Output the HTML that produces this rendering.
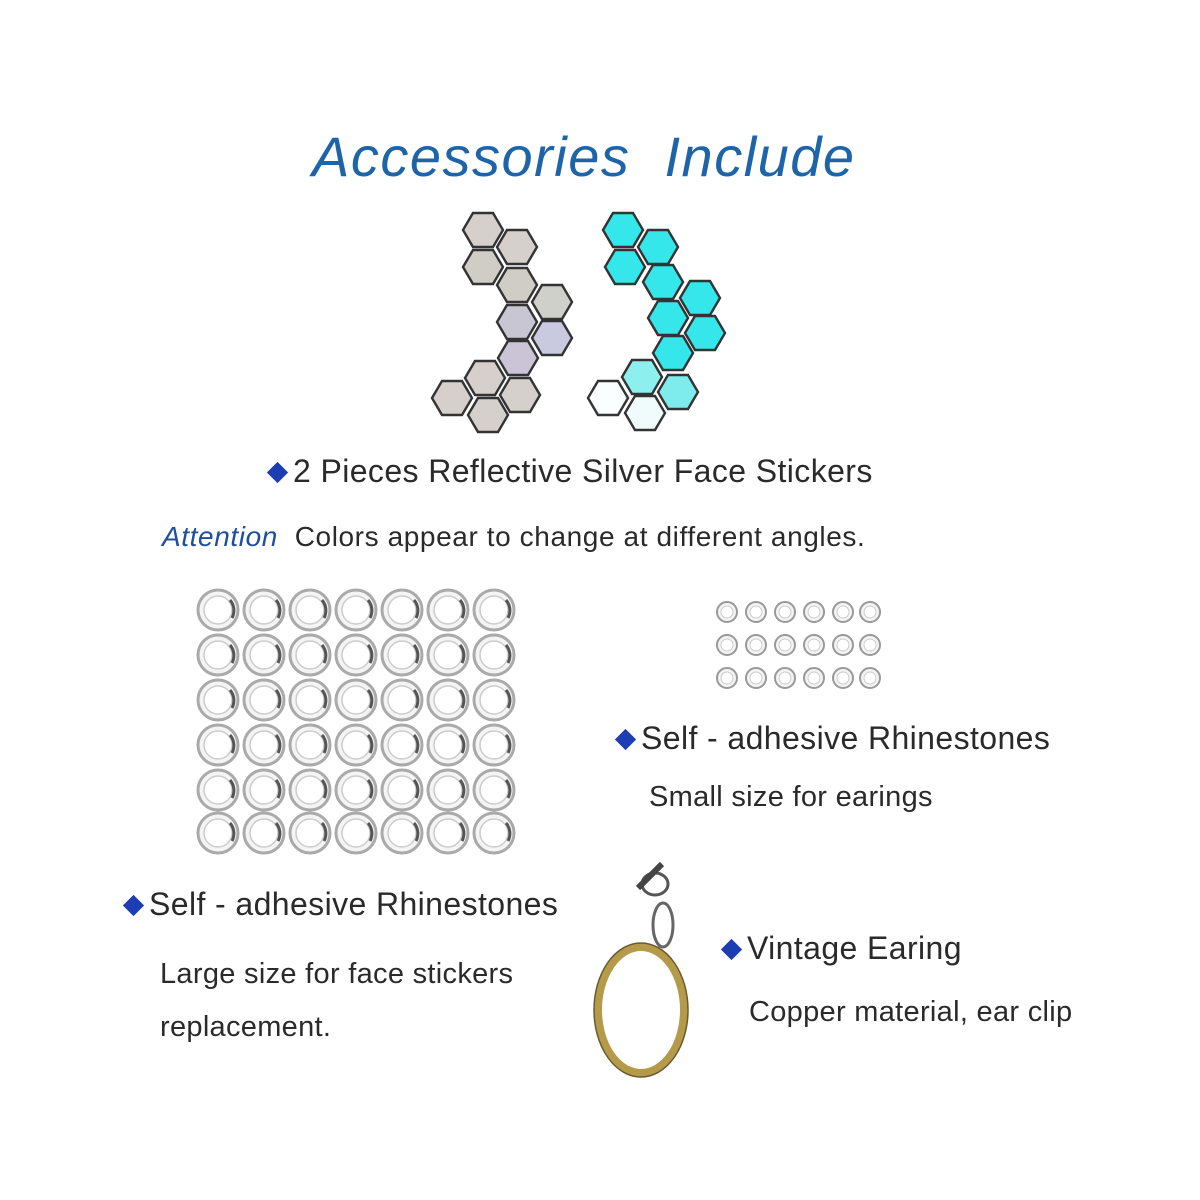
<!DOCTYPE html>
<html><head><meta charset="utf-8"><style>
body{margin:0;width:1200px;height:1200px;background:#fff;position:relative;overflow:hidden;font-family:"Liberation Sans",sans-serif;color:#2a2a2a}
.t{position:absolute;white-space:nowrap}
.d{display:inline-block;width:15px;height:15px;background:#1d3db4;transform:rotate(45deg);margin:0 8px 3px 4px;vertical-align:middle}
</style></head><body>
<div class="t" style="left:312px;top:124px;font-size:56px;letter-spacing:1.5px;font-style:italic;color:#1e64a8;">Accessories&nbsp; Include</div>
<svg width="1200" height="1200" style="position:absolute;left:0;top:0">
<defs>
<symbol id="hx" viewBox="-21 -18 42 36" overflow="visible"><polygon points="-20,0 -10,-17 10,-17 20,0 10,17 -10,17" stroke="#333" stroke-width="2.4"/></symbol>
<g id="rs"><circle r="20" fill="#f4f4f4" stroke="#aaa" stroke-width="3"/><circle r="14" fill="#fff" stroke="#ccc" stroke-width="1.5"/><path d="M12,-10 A16 16 0 0 1 14,8" stroke="#555" stroke-width="3" fill="none"/></g>
<g id="rss"><circle r="10" fill="#f4f4f4" stroke="#999" stroke-width="2"/><circle r="6" fill="#fff" stroke="#ccc"/></g>
</defs>
<g fill="#d6d0cc">
<use href="#hx" x="462" y="212" width="42" height="36"/><use href="#hx" x="496" y="229" width="42" height="36"/><use href="#hx" x="462" y="249" width="42" height="36" fill="#cfcdc6"/><use href="#hx" x="496" y="267" width="42" height="36" fill="#cfcdc6"/><use href="#hx" x="531" y="284" width="42" height="36" fill="#d0d0ca"/><use href="#hx" x="496" y="304" width="42" height="36" fill="#c9c6d3"/><use href="#hx" x="531" y="320" width="42" height="36" fill="#c9c9df"/><use href="#hx" x="497" y="340" width="42" height="36" fill="#cbc4d6"/><use href="#hx" x="464" y="360" width="42" height="36"/><use href="#hx" x="431" y="380" width="42" height="36"/><use href="#hx" x="499" y="377" width="42" height="36"/><use href="#hx" x="467" y="397" width="42" height="36"/>
</g>
<g fill="#35e6ea">
<use href="#hx" x="602" y="212" width="42" height="36"/><use href="#hx" x="637" y="229" width="42" height="36"/><use href="#hx" x="604" y="249" width="42" height="36"/><use href="#hx" x="642" y="264" width="42" height="36"/><use href="#hx" x="679" y="280" width="42" height="36"/><use href="#hx" x="647" y="300" width="42" height="36"/><use href="#hx" x="684" y="315" width="42" height="36"/><use href="#hx" x="652" y="335" width="42" height="36"/><use href="#hx" x="621" y="359" width="42" height="36" fill="#8ef0ee"/><use href="#hx" x="587" y="380" width="42" height="36" fill="#fafefe"/><use href="#hx" x="657" y="374" width="42" height="36" fill="#7eecec"/><use href="#hx" x="624" y="395" width="42" height="36" fill="#f0fbfb"/>
</g>
<g>
<use href="#rs" x="218" y="610"/><use href="#rs" x="264" y="610"/><use href="#rs" x="310" y="610"/><use href="#rs" x="356" y="610"/><use href="#rs" x="402" y="610"/><use href="#rs" x="448" y="610"/><use href="#rs" x="494" y="610"/>
<use href="#rs" x="218" y="655"/><use href="#rs" x="264" y="655"/><use href="#rs" x="310" y="655"/><use href="#rs" x="356" y="655"/><use href="#rs" x="402" y="655"/><use href="#rs" x="448" y="655"/><use href="#rs" x="494" y="655"/>
<use href="#rs" x="218" y="700"/><use href="#rs" x="264" y="700"/><use href="#rs" x="310" y="700"/><use href="#rs" x="356" y="700"/><use href="#rs" x="402" y="700"/><use href="#rs" x="448" y="700"/><use href="#rs" x="494" y="700"/>
<use href="#rs" x="218" y="745"/><use href="#rs" x="264" y="745"/><use href="#rs" x="310" y="745"/><use href="#rs" x="356" y="745"/><use href="#rs" x="402" y="745"/><use href="#rs" x="448" y="745"/><use href="#rs" x="494" y="745"/>
<use href="#rs" x="218" y="790"/><use href="#rs" x="264" y="790"/><use href="#rs" x="310" y="790"/><use href="#rs" x="356" y="790"/><use href="#rs" x="402" y="790"/><use href="#rs" x="448" y="790"/><use href="#rs" x="494" y="790"/>
<use href="#rs" x="218" y="833"/><use href="#rs" x="264" y="833"/><use href="#rs" x="310" y="833"/><use href="#rs" x="356" y="833"/><use href="#rs" x="402" y="833"/><use href="#rs" x="448" y="833"/><use href="#rs" x="494" y="833"/>
</g>
<g>
<use href="#rss" x="727" y="612"/><use href="#rss" x="756" y="612"/><use href="#rss" x="785" y="612"/><use href="#rss" x="814" y="612"/><use href="#rss" x="843" y="612"/><use href="#rss" x="870" y="612"/>
<use href="#rss" x="727" y="645"/><use href="#rss" x="756" y="645"/><use href="#rss" x="785" y="645"/><use href="#rss" x="814" y="645"/><use href="#rss" x="843" y="645"/><use href="#rss" x="870" y="645"/>
<use href="#rss" x="727" y="678"/><use href="#rss" x="756" y="678"/><use href="#rss" x="785" y="678"/><use href="#rss" x="814" y="678"/><use href="#rss" x="843" y="678"/><use href="#rss" x="870" y="678"/>
</g>
<g fill="none">
<ellipse cx="655" cy="884" rx="13" ry="11" stroke="#555" stroke-width="3"/>
<path d="M638,888 L662,864" stroke="#444" stroke-width="6"/>
<ellipse cx="663" cy="925" rx="10" ry="22" stroke="#666" stroke-width="3"/>
<ellipse cx="641" cy="1010" rx="43" ry="63" stroke="#b59a4a" stroke-width="8"/>
<ellipse cx="641" cy="1010" rx="47" ry="67" stroke="#6a5a30" stroke-width="1.5"/>
</g>
</svg>
<div class="t" style="left:266px;top:453px;font-size:32px;letter-spacing:0.4px"><span class="d"></span>2 Pieces Reflective Silver Face Stickers</div>
<div class="t" style="left:162px;top:521px;font-size:28px;letter-spacing:0.6px"><i style="color:#1e4ea0">Attention</i>&nbsp; Colors appear to change at different angles.</div>
<div class="t" style="left:614px;top:720px;font-size:32px;letter-spacing:0.4px"><span class="d"></span>Self - adhesive Rhinestones</div>
<div class="t" style="left:649px;top:781px;font-size:29px;letter-spacing:0.3px">Small size for earings</div>
<div class="t" style="left:122px;top:886px;font-size:32px;letter-spacing:0.4px"><span class="d"></span>Self - adhesive Rhinestones</div>
<div class="t" style="left:160px;top:948px;font-size:29px;letter-spacing:0.3px;line-height:53px">Large size for face stickers<br>replacement.</div>
<div class="t" style="left:720px;top:930px;font-size:32px;letter-spacing:0.4px"><span class="d"></span>Vintage Earing</div>
<div class="t" style="left:749px;top:996px;font-size:29px;letter-spacing:0.3px">Copper material, ear clip</div>
</body></html>
